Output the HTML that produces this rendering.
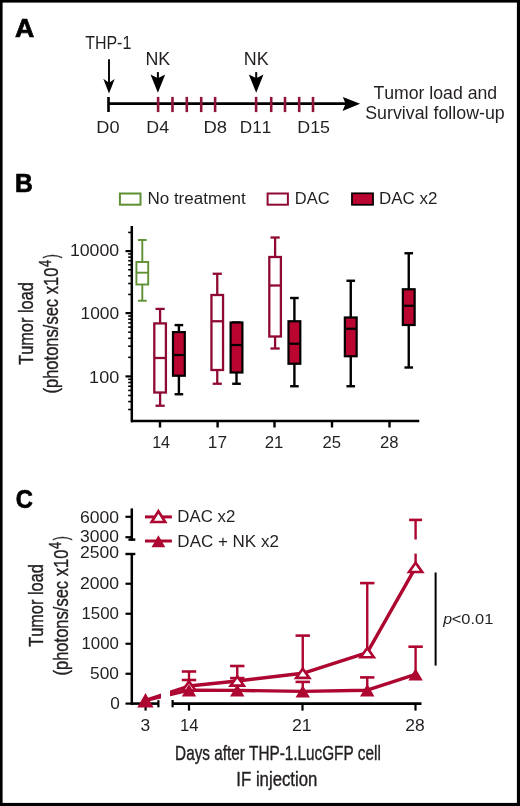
<!DOCTYPE html>
<html><head><meta charset="utf-8"><style>
html,body{margin:0;padding:0;background:#fff;}
svg{display:block;will-change:transform;}
text{font-family:"Liberation Sans", sans-serif;font-kerning:none;}
</style></head><body>
<svg width="520" height="806" viewBox="0 0 520 806">
<rect x="0" y="0" width="520" height="806" fill="#000"/>
<rect x="2.6" y="2.6" width="514.3" height="800.3" fill="#fff"/>
<text x="15.04" y="36.50" font-size="25.73" font-weight="bold" font-style="normal" fill="#000" textLength="19.27" lengthAdjust="spacingAndGlyphs" stroke="#000" stroke-width="0.7">A</text>
<text x="85.14" y="48.50" font-size="17.44" font-weight="normal" font-style="normal" fill="#231f20" textLength="46.14" lengthAdjust="spacingAndGlyphs" >THP-1</text>
<text x="145.44" y="64.90" font-size="17.59" font-weight="normal" font-style="normal" fill="#231f20" textLength="24.76" lengthAdjust="spacingAndGlyphs" >NK</text>
<text x="243.73" y="64.90" font-size="17.59" font-weight="normal" font-style="normal" fill="#231f20" textLength="24.87" lengthAdjust="spacingAndGlyphs" >NK</text>
<text x="96.36" y="132.90" font-size="16.72" font-weight="normal" font-style="normal" fill="#231f20" textLength="23.25" lengthAdjust="spacingAndGlyphs" >D0</text>
<text x="146.39" y="132.90" font-size="16.72" font-weight="normal" font-style="normal" fill="#231f20" textLength="22.73" lengthAdjust="spacingAndGlyphs" >D4</text>
<text x="203.49" y="132.90" font-size="16.72" font-weight="normal" font-style="normal" fill="#231f20" textLength="23.56" lengthAdjust="spacingAndGlyphs" >D8</text>
<text x="239.84" y="132.90" font-size="16.72" font-weight="normal" font-style="normal" fill="#231f20" textLength="31.50" lengthAdjust="spacingAndGlyphs" >D11</text>
<text x="297.29" y="132.90" font-size="16.72" font-weight="normal" font-style="normal" fill="#231f20" textLength="32.71" lengthAdjust="spacingAndGlyphs" >D15</text>
<text x="373.40" y="98.60" font-size="18.90" font-weight="normal" font-style="normal" fill="#231f20" textLength="123.74" lengthAdjust="spacingAndGlyphs" >Tumor load and</text>
<text x="365.19" y="119.20" font-size="18.90" font-weight="normal" font-style="normal" fill="#231f20" textLength="139.56" lengthAdjust="spacingAndGlyphs" >Survival follow-up</text>
<line x1="108.50" y1="103.60" x2="346.00" y2="103.60" stroke="#000" stroke-width="2.6" stroke-linecap="butt"/>
<line x1="108.50" y1="97.00" x2="108.50" y2="112.00" stroke="#000" stroke-width="2.6" stroke-linecap="butt"/>
<polygon points="342.80,96.90 360.10,103.70 342.50,111.00 345.60,103.70" fill="#000" />
<line x1="109.00" y1="59.20" x2="109.00" y2="86.00" stroke="#000" stroke-width="1.9" stroke-linecap="butt"/>
<polygon points="103.30,78.70 109.00,82.80 114.70,79.00 109.00,93.50" fill="#000" />
<line x1="157.90" y1="72.10" x2="157.90" y2="80.00" stroke="#000" stroke-width="2.0" stroke-linecap="butt"/>
<polygon points="150.50,74.40 157.90,78.20 165.20,74.40 157.90,92.80" fill="#000" />
<line x1="256.20" y1="72.10" x2="256.20" y2="80.00" stroke="#000" stroke-width="2.0" stroke-linecap="butt"/>
<polygon points="248.80,74.40 256.20,78.20 263.50,74.40 256.20,92.80" fill="#000" />
<line x1="158.10" y1="96.90" x2="158.10" y2="112.10" stroke="#90143a" stroke-width="2.6" stroke-linecap="butt"/>
<line x1="172.50" y1="96.90" x2="172.50" y2="112.10" stroke="#90143a" stroke-width="2.6" stroke-linecap="butt"/>
<line x1="186.80" y1="96.90" x2="186.80" y2="112.10" stroke="#90143a" stroke-width="2.6" stroke-linecap="butt"/>
<line x1="201.20" y1="96.90" x2="201.20" y2="112.10" stroke="#90143a" stroke-width="2.6" stroke-linecap="butt"/>
<line x1="215.10" y1="96.90" x2="215.10" y2="112.10" stroke="#90143a" stroke-width="2.6" stroke-linecap="butt"/>
<line x1="256.10" y1="96.90" x2="256.10" y2="112.10" stroke="#90143a" stroke-width="2.6" stroke-linecap="butt"/>
<line x1="271.20" y1="96.90" x2="271.20" y2="112.10" stroke="#90143a" stroke-width="2.6" stroke-linecap="butt"/>
<line x1="285.00" y1="96.90" x2="285.00" y2="112.10" stroke="#90143a" stroke-width="2.6" stroke-linecap="butt"/>
<line x1="299.20" y1="96.90" x2="299.20" y2="112.10" stroke="#90143a" stroke-width="2.6" stroke-linecap="butt"/>
<line x1="313.00" y1="96.90" x2="313.00" y2="112.10" stroke="#90143a" stroke-width="2.6" stroke-linecap="butt"/>
<text x="14.95" y="191.60" font-size="25.15" font-weight="bold" font-style="normal" fill="#000" textLength="17.76" lengthAdjust="spacingAndGlyphs" stroke="#000" stroke-width="0.7">B</text>
<rect x="119.9" y="193.5" width="20.6" height="11.2" fill="none" stroke="#5f9034" stroke-width="2"/>
<text x="147.40" y="204.30" font-size="17.08" font-weight="normal" font-style="normal" fill="#231f20" textLength="98.42" lengthAdjust="spacingAndGlyphs" >No treatment</text>
<rect x="267.6" y="193.5" width="20.3" height="11.2" fill="none" stroke="#8e0a32" stroke-width="2"/>
<text x="294.75" y="204.30" font-size="17.08" font-weight="normal" font-style="normal" fill="#231f20" textLength="34.78" lengthAdjust="spacingAndGlyphs" >DAC</text>
<rect x="351.95" y="193.3" width="21.1" height="11.5" fill="#b90530" stroke="#000" stroke-width="1.7"/>
<text x="378.91" y="204.25" font-size="17.08" font-weight="normal" font-style="normal" fill="#231f20" textLength="58.44" lengthAdjust="spacingAndGlyphs" >DAC x2</text>
<text transform="rotate(-90)" x="-364.87" y="33.00" font-size="20.50" fill="#231f20" stroke="#231f20" stroke-width="0.4" textLength="82.72" lengthAdjust="spacingAndGlyphs">Tumor load</text>
<text transform="rotate(-90)" x="-393.52" y="57.50" font-size="20.50" fill="#231f20" stroke="#231f20" stroke-width="0.4" textLength="125.87" lengthAdjust="spacingAndGlyphs">(photons/sec x10</text>
<text transform="rotate(-90)" x="-267.00" y="51.20" font-size="16.00" fill="#231f20" stroke="#231f20" stroke-width="0.4" textLength="7.17" lengthAdjust="spacingAndGlyphs">4</text>
<text transform="rotate(-90)" x="-258.37" y="57.50" font-size="20.50" fill="#231f20" stroke="#231f20" stroke-width="0.4" textLength="4.02" lengthAdjust="spacingAndGlyphs">)</text>
<line x1="131.80" y1="226.00" x2="131.80" y2="422.30" stroke="#000" stroke-width="2.5" stroke-linecap="butt"/>
<line x1="131.10" y1="421.00" x2="419.30" y2="421.00" stroke="#000" stroke-width="2.6" stroke-linecap="butt"/>
<line x1="125.50" y1="376.40" x2="132.00" y2="376.40" stroke="#000" stroke-width="2.2" stroke-linecap="butt"/>
<line x1="125.50" y1="313.10" x2="132.00" y2="313.10" stroke="#000" stroke-width="2.2" stroke-linecap="butt"/>
<line x1="125.50" y1="251.10" x2="132.00" y2="251.10" stroke="#000" stroke-width="2.2" stroke-linecap="butt"/>
<line x1="128.20" y1="409.50" x2="132.00" y2="409.50" stroke="#000" stroke-width="1.6" stroke-linecap="butt"/>
<line x1="128.20" y1="401.59" x2="132.00" y2="401.59" stroke="#000" stroke-width="1.6" stroke-linecap="butt"/>
<line x1="128.20" y1="395.46" x2="132.00" y2="395.46" stroke="#000" stroke-width="1.6" stroke-linecap="butt"/>
<line x1="128.20" y1="390.44" x2="132.00" y2="390.44" stroke="#000" stroke-width="1.6" stroke-linecap="butt"/>
<line x1="128.20" y1="386.21" x2="132.00" y2="386.21" stroke="#000" stroke-width="1.6" stroke-linecap="butt"/>
<line x1="128.20" y1="382.53" x2="132.00" y2="382.53" stroke="#000" stroke-width="1.6" stroke-linecap="butt"/>
<line x1="128.20" y1="379.30" x2="132.00" y2="379.30" stroke="#000" stroke-width="1.6" stroke-linecap="butt"/>
<line x1="128.20" y1="357.34" x2="132.00" y2="357.34" stroke="#000" stroke-width="1.6" stroke-linecap="butt"/>
<line x1="128.20" y1="346.20" x2="132.00" y2="346.20" stroke="#000" stroke-width="1.6" stroke-linecap="butt"/>
<line x1="128.20" y1="338.29" x2="132.00" y2="338.29" stroke="#000" stroke-width="1.6" stroke-linecap="butt"/>
<line x1="128.20" y1="332.16" x2="132.00" y2="332.16" stroke="#000" stroke-width="1.6" stroke-linecap="butt"/>
<line x1="128.20" y1="327.14" x2="132.00" y2="327.14" stroke="#000" stroke-width="1.6" stroke-linecap="butt"/>
<line x1="128.20" y1="322.91" x2="132.00" y2="322.91" stroke="#000" stroke-width="1.6" stroke-linecap="butt"/>
<line x1="128.20" y1="319.23" x2="132.00" y2="319.23" stroke="#000" stroke-width="1.6" stroke-linecap="butt"/>
<line x1="128.20" y1="316.00" x2="132.00" y2="316.00" stroke="#000" stroke-width="1.6" stroke-linecap="butt"/>
<line x1="128.20" y1="294.44" x2="132.00" y2="294.44" stroke="#000" stroke-width="1.6" stroke-linecap="butt"/>
<line x1="128.20" y1="283.52" x2="132.00" y2="283.52" stroke="#000" stroke-width="1.6" stroke-linecap="butt"/>
<line x1="128.20" y1="275.77" x2="132.00" y2="275.77" stroke="#000" stroke-width="1.6" stroke-linecap="butt"/>
<line x1="128.20" y1="269.76" x2="132.00" y2="269.76" stroke="#000" stroke-width="1.6" stroke-linecap="butt"/>
<line x1="128.20" y1="264.85" x2="132.00" y2="264.85" stroke="#000" stroke-width="1.6" stroke-linecap="butt"/>
<line x1="128.20" y1="260.70" x2="132.00" y2="260.70" stroke="#000" stroke-width="1.6" stroke-linecap="butt"/>
<line x1="128.20" y1="257.11" x2="132.00" y2="257.11" stroke="#000" stroke-width="1.6" stroke-linecap="butt"/>
<line x1="128.20" y1="253.94" x2="132.00" y2="253.94" stroke="#000" stroke-width="1.6" stroke-linecap="butt"/>
<line x1="128.20" y1="232.44" x2="132.00" y2="232.44" stroke="#000" stroke-width="1.6" stroke-linecap="butt"/>
<line x1="160.00" y1="421.00" x2="160.00" y2="427.50" stroke="#000" stroke-width="2.4" stroke-linecap="butt"/>
<line x1="217.60" y1="421.00" x2="217.60" y2="427.50" stroke="#000" stroke-width="2.4" stroke-linecap="butt"/>
<line x1="274.50" y1="421.00" x2="274.50" y2="427.50" stroke="#000" stroke-width="2.4" stroke-linecap="butt"/>
<line x1="332.00" y1="421.00" x2="332.00" y2="427.50" stroke="#000" stroke-width="2.4" stroke-linecap="butt"/>
<line x1="389.50" y1="421.00" x2="389.50" y2="427.50" stroke="#000" stroke-width="2.4" stroke-linecap="butt"/>
<text x="69.90" y="256.25" font-size="17.08" font-weight="normal" font-style="normal" fill="#231f20" textLength="49.29" lengthAdjust="spacingAndGlyphs" >10000</text>
<text x="80.58" y="319.00" font-size="17.08" font-weight="normal" font-style="normal" fill="#231f20" textLength="38.60" lengthAdjust="spacingAndGlyphs" >1000</text>
<text x="89.13" y="382.50" font-size="17.08" font-weight="normal" font-style="normal" fill="#231f20" textLength="30.08" lengthAdjust="spacingAndGlyphs" >100</text>
<text x="152.15" y="447.80" font-size="16.42" font-weight="normal" font-style="normal" fill="#231f20" textLength="17.95" lengthAdjust="spacingAndGlyphs" >14</text>
<text x="207.89" y="447.80" font-size="16.42" font-weight="normal" font-style="normal" fill="#231f20" textLength="19.18" lengthAdjust="spacingAndGlyphs" >17</text>
<text x="264.76" y="447.80" font-size="16.42" font-weight="normal" font-style="normal" fill="#231f20" textLength="18.66" lengthAdjust="spacingAndGlyphs" >21</text>
<text x="322.41" y="447.80" font-size="16.42" font-weight="normal" font-style="normal" fill="#231f20" textLength="18.54" lengthAdjust="spacingAndGlyphs" >25</text>
<text x="380.06" y="447.80" font-size="16.42" font-weight="normal" font-style="normal" fill="#231f20" textLength="18.56" lengthAdjust="spacingAndGlyphs" >28</text>
<line x1="142.30" y1="240.00" x2="142.30" y2="262.00" stroke="#5f9034" stroke-width="1.9" stroke-linecap="butt"/>
<line x1="142.30" y1="284.50" x2="142.30" y2="300.75" stroke="#5f9034" stroke-width="1.9" stroke-linecap="butt"/>
<line x1="137.90" y1="240.00" x2="146.70" y2="240.00" stroke="#5f9034" stroke-width="1.9" stroke-linecap="butt"/>
<line x1="137.90" y1="300.75" x2="146.70" y2="300.75" stroke="#5f9034" stroke-width="1.9" stroke-linecap="butt"/>
<rect x="136.40" y="262.00" width="11.80" height="22.50" fill="none" stroke="#5f9034" stroke-width="1.9"/>
<line x1="136.40" y1="272.70" x2="148.20" y2="272.70" stroke="#5f9034" stroke-width="1.9" stroke-linecap="butt"/>
<line x1="160.10" y1="308.90" x2="160.10" y2="323.40" stroke="#8e0a32" stroke-width="2.3" stroke-linecap="butt"/>
<line x1="160.10" y1="392.50" x2="160.10" y2="405.75" stroke="#8e0a32" stroke-width="2.3" stroke-linecap="butt"/>
<line x1="155.50" y1="308.90" x2="164.70" y2="308.90" stroke="#8e0a32" stroke-width="2.3" stroke-linecap="butt"/>
<line x1="155.50" y1="405.75" x2="164.70" y2="405.75" stroke="#8e0a32" stroke-width="2.3" stroke-linecap="butt"/>
<rect x="154.30" y="323.40" width="11.60" height="69.10" fill="none" stroke="#8e0a32" stroke-width="2.3"/>
<line x1="154.30" y1="358.00" x2="165.90" y2="358.00" stroke="#8e0a32" stroke-width="2.3" stroke-linecap="butt"/>
<line x1="178.90" y1="325.10" x2="178.90" y2="332.10" stroke="#000" stroke-width="2.4" stroke-linecap="butt"/>
<line x1="178.90" y1="375.75" x2="178.90" y2="394.25" stroke="#000" stroke-width="2.4" stroke-linecap="butt"/>
<line x1="174.60" y1="325.10" x2="183.20" y2="325.10" stroke="#000" stroke-width="2.4" stroke-linecap="butt"/>
<line x1="174.60" y1="394.25" x2="183.20" y2="394.25" stroke="#000" stroke-width="2.4" stroke-linecap="butt"/>
<rect x="173.00" y="332.10" width="11.80" height="43.65" fill="#b90530" stroke="#000" stroke-width="2.2"/>
<line x1="173.00" y1="355.00" x2="184.80" y2="355.00" stroke="#000" stroke-width="2.2" stroke-linecap="butt"/>
<line x1="217.25" y1="273.75" x2="217.25" y2="295.00" stroke="#8e0a32" stroke-width="2.3" stroke-linecap="butt"/>
<line x1="217.25" y1="370.00" x2="217.25" y2="383.75" stroke="#8e0a32" stroke-width="2.3" stroke-linecap="butt"/>
<line x1="212.65" y1="273.75" x2="221.85" y2="273.75" stroke="#8e0a32" stroke-width="2.3" stroke-linecap="butt"/>
<line x1="212.65" y1="383.75" x2="221.85" y2="383.75" stroke="#8e0a32" stroke-width="2.3" stroke-linecap="butt"/>
<rect x="211.45" y="295.00" width="11.60" height="75.00" fill="none" stroke="#8e0a32" stroke-width="2.3"/>
<line x1="211.45" y1="321.25" x2="223.05" y2="321.25" stroke="#8e0a32" stroke-width="2.3" stroke-linecap="butt"/>
<line x1="236.50" y1="322.50" x2="236.50" y2="322.50" stroke="#000" stroke-width="2.4" stroke-linecap="butt"/>
<line x1="236.50" y1="372.50" x2="236.50" y2="383.75" stroke="#000" stroke-width="2.4" stroke-linecap="butt"/>
<line x1="232.20" y1="322.50" x2="240.80" y2="322.50" stroke="#000" stroke-width="2.4" stroke-linecap="butt"/>
<line x1="232.20" y1="383.75" x2="240.80" y2="383.75" stroke="#000" stroke-width="2.4" stroke-linecap="butt"/>
<rect x="230.60" y="322.50" width="11.80" height="50.00" fill="#b90530" stroke="#000" stroke-width="2.2"/>
<line x1="230.60" y1="345.00" x2="242.40" y2="345.00" stroke="#000" stroke-width="2.2" stroke-linecap="butt"/>
<line x1="275.10" y1="237.50" x2="275.10" y2="257.00" stroke="#8e0a32" stroke-width="2.3" stroke-linecap="butt"/>
<line x1="275.10" y1="336.50" x2="275.10" y2="348.50" stroke="#8e0a32" stroke-width="2.3" stroke-linecap="butt"/>
<line x1="270.50" y1="237.50" x2="279.70" y2="237.50" stroke="#8e0a32" stroke-width="2.3" stroke-linecap="butt"/>
<line x1="270.50" y1="348.50" x2="279.70" y2="348.50" stroke="#8e0a32" stroke-width="2.3" stroke-linecap="butt"/>
<rect x="269.30" y="257.00" width="11.60" height="79.50" fill="none" stroke="#8e0a32" stroke-width="2.3"/>
<line x1="269.30" y1="285.50" x2="280.90" y2="285.50" stroke="#8e0a32" stroke-width="2.3" stroke-linecap="butt"/>
<line x1="294.40" y1="298.00" x2="294.40" y2="321.25" stroke="#000" stroke-width="2.4" stroke-linecap="butt"/>
<line x1="294.40" y1="363.75" x2="294.40" y2="386.25" stroke="#000" stroke-width="2.4" stroke-linecap="butt"/>
<line x1="290.10" y1="298.00" x2="298.70" y2="298.00" stroke="#000" stroke-width="2.4" stroke-linecap="butt"/>
<line x1="290.10" y1="386.25" x2="298.70" y2="386.25" stroke="#000" stroke-width="2.4" stroke-linecap="butt"/>
<rect x="288.50" y="321.25" width="11.80" height="42.50" fill="#b90530" stroke="#000" stroke-width="2.2"/>
<line x1="288.50" y1="343.75" x2="300.30" y2="343.75" stroke="#000" stroke-width="2.2" stroke-linecap="butt"/>
<line x1="350.75" y1="280.75" x2="350.75" y2="317.50" stroke="#000" stroke-width="2.4" stroke-linecap="butt"/>
<line x1="350.75" y1="356.25" x2="350.75" y2="386.25" stroke="#000" stroke-width="2.4" stroke-linecap="butt"/>
<line x1="346.45" y1="280.75" x2="355.05" y2="280.75" stroke="#000" stroke-width="2.4" stroke-linecap="butt"/>
<line x1="346.45" y1="386.25" x2="355.05" y2="386.25" stroke="#000" stroke-width="2.4" stroke-linecap="butt"/>
<rect x="344.85" y="317.50" width="11.80" height="38.75" fill="#b90530" stroke="#000" stroke-width="2.2"/>
<line x1="344.85" y1="328.75" x2="356.65" y2="328.75" stroke="#000" stroke-width="2.2" stroke-linecap="butt"/>
<line x1="408.75" y1="253.25" x2="408.75" y2="289.25" stroke="#000" stroke-width="2.4" stroke-linecap="butt"/>
<line x1="408.75" y1="325.00" x2="408.75" y2="367.50" stroke="#000" stroke-width="2.4" stroke-linecap="butt"/>
<line x1="404.45" y1="253.25" x2="413.05" y2="253.25" stroke="#000" stroke-width="2.4" stroke-linecap="butt"/>
<line x1="404.45" y1="367.50" x2="413.05" y2="367.50" stroke="#000" stroke-width="2.4" stroke-linecap="butt"/>
<rect x="402.85" y="289.25" width="11.80" height="35.75" fill="#b90530" stroke="#000" stroke-width="2.2"/>
<line x1="402.85" y1="305.75" x2="414.65" y2="305.75" stroke="#000" stroke-width="2.2" stroke-linecap="butt"/>
<text x="15.63" y="507.90" font-size="26.02" font-weight="bold" font-style="normal" fill="#000" textLength="17.12" lengthAdjust="spacingAndGlyphs" stroke="#000" stroke-width="0.7">C</text>
<text transform="rotate(-90)" x="-646.87" y="43.00" font-size="20.50" fill="#231f20" stroke="#231f20" stroke-width="0.4" textLength="82.72" lengthAdjust="spacingAndGlyphs">Tumor load</text>
<text transform="rotate(-90)" x="-675.52" y="67.50" font-size="20.50" fill="#231f20" stroke="#231f20" stroke-width="0.4" textLength="125.87" lengthAdjust="spacingAndGlyphs">(photons/sec x10</text>
<text transform="rotate(-90)" x="-549.00" y="61.20" font-size="16.00" fill="#231f20" stroke="#231f20" stroke-width="0.4" textLength="7.17" lengthAdjust="spacingAndGlyphs">4</text>
<text transform="rotate(-90)" x="-540.37" y="67.50" font-size="20.50" fill="#231f20" stroke="#231f20" stroke-width="0.4" textLength="4.02" lengthAdjust="spacingAndGlyphs">)</text>
<line x1="131.80" y1="508.40" x2="131.80" y2="540.80" stroke="#000" stroke-width="2.5" stroke-linecap="butt"/>
<line x1="125.40" y1="516.80" x2="132.00" y2="516.80" stroke="#000" stroke-width="2.2" stroke-linecap="butt"/>
<line x1="125.40" y1="537.20" x2="132.00" y2="537.20" stroke="#000" stroke-width="2.2" stroke-linecap="butt"/>
<line x1="128.40" y1="539.60" x2="135.30" y2="539.60" stroke="#000" stroke-width="2.4" stroke-linecap="butt"/>
<line x1="125.40" y1="554.00" x2="135.30" y2="554.00" stroke="#000" stroke-width="2.4" stroke-linecap="butt"/>
<line x1="131.80" y1="553.00" x2="131.80" y2="704.80" stroke="#000" stroke-width="2.5" stroke-linecap="butt"/>
<line x1="125.50" y1="673.75" x2="132.00" y2="673.75" stroke="#000" stroke-width="2.2" stroke-linecap="butt"/>
<line x1="125.50" y1="643.75" x2="132.00" y2="643.75" stroke="#000" stroke-width="2.2" stroke-linecap="butt"/>
<line x1="125.50" y1="613.75" x2="132.00" y2="613.75" stroke="#000" stroke-width="2.2" stroke-linecap="butt"/>
<line x1="125.50" y1="583.75" x2="132.00" y2="583.75" stroke="#000" stroke-width="2.2" stroke-linecap="butt"/>
<line x1="125.50" y1="703.60" x2="132.00" y2="703.60" stroke="#000" stroke-width="2.2" stroke-linecap="butt"/>
<line x1="131.20" y1="703.60" x2="158.60" y2="703.60" stroke="#000" stroke-width="2.6" stroke-linecap="butt"/>
<line x1="158.40" y1="700.20" x2="158.40" y2="707.30" stroke="#000" stroke-width="2.2" stroke-linecap="butt"/>
<line x1="172.60" y1="700.00" x2="172.60" y2="707.30" stroke="#000" stroke-width="2.2" stroke-linecap="butt"/>
<line x1="172.50" y1="703.60" x2="421.50" y2="703.60" stroke="#000" stroke-width="2.6" stroke-linecap="butt"/>
<line x1="145.60" y1="703.60" x2="145.60" y2="710.60" stroke="#000" stroke-width="2.2" stroke-linecap="butt"/>
<line x1="189.00" y1="703.60" x2="189.00" y2="710.60" stroke="#000" stroke-width="2.2" stroke-linecap="butt"/>
<line x1="302.50" y1="703.60" x2="302.50" y2="710.60" stroke="#000" stroke-width="2.2" stroke-linecap="butt"/>
<line x1="415.50" y1="703.60" x2="415.50" y2="710.60" stroke="#000" stroke-width="2.2" stroke-linecap="butt"/>
<text x="79.91" y="522.50" font-size="17.30" font-weight="normal" font-style="normal" fill="#231f20" textLength="39.08" lengthAdjust="spacingAndGlyphs" >6000</text>
<text x="80.13" y="542.20" font-size="17.30" font-weight="normal" font-style="normal" fill="#231f20" textLength="38.85" lengthAdjust="spacingAndGlyphs" >3000</text>
<text x="79.92" y="558.20" font-size="17.30" font-weight="normal" font-style="normal" fill="#231f20" textLength="39.07" lengthAdjust="spacingAndGlyphs" >2500</text>
<text x="79.92" y="588.75" font-size="17.30" font-weight="normal" font-style="normal" fill="#231f20" textLength="39.07" lengthAdjust="spacingAndGlyphs" >2000</text>
<text x="81.52" y="618.75" font-size="17.30" font-weight="normal" font-style="normal" fill="#231f20" textLength="37.44" lengthAdjust="spacingAndGlyphs" >1500</text>
<text x="81.52" y="648.75" font-size="17.30" font-weight="normal" font-style="normal" fill="#231f20" textLength="37.44" lengthAdjust="spacingAndGlyphs" >1000</text>
<text x="90.11" y="678.75" font-size="17.30" font-weight="normal" font-style="normal" fill="#231f20" textLength="28.87" lengthAdjust="spacingAndGlyphs" >500</text>
<text x="110.13" y="708.50" font-size="17.30" font-weight="normal" font-style="normal" fill="#231f20" textLength="9.60" lengthAdjust="spacingAndGlyphs" >0</text>
<text x="140.61" y="731.30" font-size="16.72" font-weight="normal" font-style="normal" fill="#231f20" textLength="9.68" lengthAdjust="spacingAndGlyphs" >3</text>
<text x="179.96" y="731.30" font-size="16.72" font-weight="normal" font-style="normal" fill="#231f20" textLength="18.50" lengthAdjust="spacingAndGlyphs" >14</text>
<text x="292.01" y="731.30" font-size="16.72" font-weight="normal" font-style="normal" fill="#231f20" textLength="19.65" lengthAdjust="spacingAndGlyphs" >21</text>
<text x="405.32" y="731.30" font-size="16.72" font-weight="normal" font-style="normal" fill="#231f20" textLength="19.44" lengthAdjust="spacingAndGlyphs" >28</text>
<text x="175.10" y="760.00" font-size="20.64" font-weight="normal" font-style="normal" fill="#231f20" textLength="205.73" lengthAdjust="spacingAndGlyphs" stroke="#231f20" stroke-width="0.4">Days after THP-1.LucGFP cell</text>
<text x="236.35" y="785.80" font-size="20.64" font-weight="normal" font-style="normal" fill="#231f20" textLength="81.03" lengthAdjust="spacingAndGlyphs" stroke="#231f20" stroke-width="0.4">IF injection</text>
<line x1="145.00" y1="516.90" x2="171.90" y2="516.90" stroke="#ad0631" stroke-width="3.0" stroke-linecap="butt"/>
<polygon points="158.4,511.2 151.6,522.0 165.2,522.0" fill="#fff" stroke="#ad0631" stroke-width="2.6"/>
<line x1="145.00" y1="541.00" x2="171.90" y2="541.00" stroke="#ad0631" stroke-width="3.0" stroke-linecap="butt"/>
<polygon points="158.40,535.20 151.50,547.30 165.30,547.30" fill="#ad0631" />
<text x="177.37" y="522.00" font-size="16.72" font-weight="normal" font-style="normal" fill="#231f20" textLength="57.98" lengthAdjust="spacingAndGlyphs" >DAC x2</text>
<text x="177.36" y="546.75" font-size="17.08" font-weight="normal" font-style="normal" fill="#231f20" textLength="101.50" lengthAdjust="spacingAndGlyphs" >DAC + NK x2</text>
<line x1="435.60" y1="572.50" x2="435.60" y2="665.60" stroke="#000" stroke-width="2.0" stroke-linecap="butt"/>
<text x="443.19" y="623.75" font-size="14.54" font-weight="normal" font-style="italic" fill="#231f20" textLength="8.82" lengthAdjust="spacingAndGlyphs" >p</text>
<text x="451.69" y="623.75" font-size="14.54" font-weight="normal" font-style="normal" fill="#231f20" textLength="41.61" lengthAdjust="spacingAndGlyphs" >&lt;0.01</text>
<clipPath id="cl"><rect x="0" y="0" width="161" height="806"/><rect x="170" y="0" width="350" height="806"/></clipPath>
<path d="M145.6,700.3 L189,690.2 L237.25,690.4 L302.75,691.4 L367.25,690.2 L415.6,674.4" fill="none" stroke="#ad0631" stroke-width="3.4" stroke-linejoin="round" clip-path="url(#cl)"/>
<path d="M145.6,700.3 L189,686.0 L237.25,681.0 L302.75,673.3 L367.25,652.6 L415.6,567.4" fill="none" stroke="#ad0631" stroke-width="3.4" stroke-linejoin="round" clip-path="url(#cl)"/>
<line x1="189.00" y1="671.50" x2="189.00" y2="686.00" stroke="#ad0631" stroke-width="2.4" stroke-linecap="butt"/>
<line x1="181.80" y1="671.50" x2="196.20" y2="671.50" stroke="#ad0631" stroke-width="2.6" stroke-linecap="butt"/>
<line x1="189.00" y1="680.00" x2="189.00" y2="690.00" stroke="#ad0631" stroke-width="2.4" stroke-linecap="butt"/>
<line x1="181.80" y1="680.00" x2="196.20" y2="680.00" stroke="#ad0631" stroke-width="2.6" stroke-linecap="butt"/>
<line x1="237.25" y1="666.00" x2="237.25" y2="681.00" stroke="#ad0631" stroke-width="2.4" stroke-linecap="butt"/>
<line x1="230.05" y1="666.00" x2="244.45" y2="666.00" stroke="#ad0631" stroke-width="2.6" stroke-linecap="butt"/>
<line x1="237.25" y1="678.10" x2="237.25" y2="690.00" stroke="#ad0631" stroke-width="2.4" stroke-linecap="butt"/>
<line x1="230.05" y1="678.10" x2="244.45" y2="678.10" stroke="#ad0631" stroke-width="2.6" stroke-linecap="butt"/>
<line x1="302.75" y1="635.60" x2="302.75" y2="673.00" stroke="#ad0631" stroke-width="2.4" stroke-linecap="butt"/>
<line x1="295.55" y1="635.60" x2="309.95" y2="635.60" stroke="#ad0631" stroke-width="2.6" stroke-linecap="butt"/>
<line x1="302.75" y1="681.90" x2="302.75" y2="691.00" stroke="#ad0631" stroke-width="2.4" stroke-linecap="butt"/>
<line x1="295.55" y1="681.90" x2="309.95" y2="681.90" stroke="#ad0631" stroke-width="2.6" stroke-linecap="butt"/>
<line x1="367.25" y1="583.10" x2="367.25" y2="652.00" stroke="#ad0631" stroke-width="2.4" stroke-linecap="butt"/>
<line x1="360.05" y1="583.10" x2="374.45" y2="583.10" stroke="#ad0631" stroke-width="2.6" stroke-linecap="butt"/>
<line x1="367.25" y1="677.40" x2="367.25" y2="690.00" stroke="#ad0631" stroke-width="2.4" stroke-linecap="butt"/>
<line x1="360.05" y1="677.40" x2="374.45" y2="677.40" stroke="#ad0631" stroke-width="2.6" stroke-linecap="butt"/>
<line x1="415.60" y1="646.70" x2="415.60" y2="674.00" stroke="#ad0631" stroke-width="2.4" stroke-linecap="butt"/>
<line x1="408.40" y1="646.70" x2="422.80" y2="646.70" stroke="#ad0631" stroke-width="2.6" stroke-linecap="butt"/>
<line x1="415.60" y1="553.60" x2="415.60" y2="567.00" stroke="#ad0631" stroke-width="2.4" stroke-linecap="butt"/>
<line x1="415.60" y1="519.90" x2="415.60" y2="539.50" stroke="#ad0631" stroke-width="2.4" stroke-linecap="butt"/>
<line x1="409.10" y1="519.90" x2="422.10" y2="519.90" stroke="#ad0631" stroke-width="2.6" stroke-linecap="butt"/>
<polygon points="189.00,681.40 182.40,690.60 195.60,690.60" fill="#fff" stroke="#ad0631" stroke-width="2.6"/>
<polygon points="237.25,676.40 230.65,685.60 243.85,685.60" fill="#fff" stroke="#ad0631" stroke-width="2.6"/>
<polygon points="302.75,668.70 296.15,677.90 309.35,677.90" fill="#fff" stroke="#ad0631" stroke-width="2.6"/>
<polygon points="367.25,648.00 360.65,657.20 373.85,657.20" fill="#fff" stroke="#ad0631" stroke-width="2.6"/>
<polygon points="415.60,562.80 409.00,572.00 422.20,572.00" fill="#fff" stroke="#ad0631" stroke-width="2.6"/>
<polygon points="189.00,684.00 181.80,696.40 196.20,696.40" fill="#ad0631" />
<polygon points="237.25,684.20 230.05,696.60 244.45,696.60" fill="#ad0631" />
<polygon points="302.75,685.20 295.55,697.60 309.95,697.60" fill="#ad0631" />
<polygon points="367.25,684.00 360.05,696.40 374.45,696.40" fill="#ad0631" />
<polygon points="415.60,668.20 408.40,680.60 422.80,680.60" fill="#ad0631" />
<polygon points="145.50,693.00 137.30,707.40 153.60,707.40" fill="#ad0631" />
</svg>
</body></html>
